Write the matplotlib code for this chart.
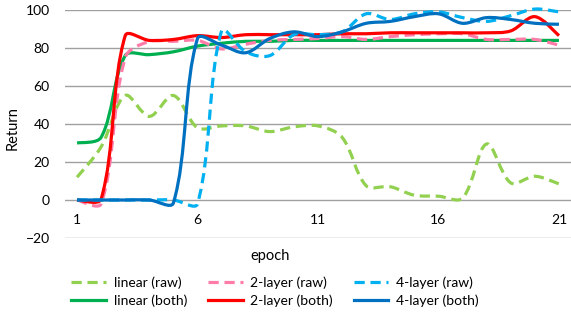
import matplotlib
matplotlib.use("Agg")
import matplotlib.pyplot as plt
from matplotlib.path import Path
from matplotlib.patches import PathPatch
from matplotlib.lines import Line2D
import numpy as np

plt.rcParams['font.family'] = ['Lato', 'DejaVu Sans']

epochs = list(range(1, 22))
xtick_labels = ['1', '6', '11', '16', '21']

linear_raw = [12, 28, 55, 44, 55, 38, 39, 39, 36, 38.5, 39, 33, 7.5, 7, 2.5, 2, 1, 29.5, 9, 12.5, 8.5]
two_raw = [0, -2, 75, 83.5, 83.5, 84, 79.5, 82, 84, 84.5, 85, 86, 84.5, 86, 87, 87.5, 87.5, 84.5, 84.5, 84.5, 81.5]
four_raw = [0, 0, 0, 0, 0, -2, 89, 78, 76, 87, 87, 88.5, 98, 95, 98, 99, 96, 94, 97, 100.5, 99]
linear_both = [30, 33, 76, 76.5, 78, 81, 82.5, 83.5, 83.5, 84, 84, 84, 84, 84, 84, 84, 84, 84, 84, 84, 84]
two_both = [0, 0.5, 86.5, 84, 84.5, 86.5, 85.5, 87, 87, 87, 87, 87.5, 87.5, 88, 88, 88, 88, 88, 89, 96.5, 86.5]
four_both = [0, 0, 0, 0, -1.5, 85, 81.5, 77.5, 85, 88.5, 86, 88.5, 93, 94, 96.5, 98, 93, 96, 95, 93, 92.5]

series = [
    ("linear (raw)", linear_raw, "#92D050", "dash"),
    ("linear (both)", linear_both, "#00B050", "solid"),
    ("2-layer (raw)", two_raw, "#FF7CA8", "dash"),
    ("2-layer (both)", two_both, "#FF0000", "solid"),
    ("4-layer (raw)", four_raw, "#00B0F0", "dash"),
    ("4-layer (both)", four_both, "#0070C0", "solid"),
]

# approximate pixel scale (x per epoch, y per unit) for the smoothing tangents
SX, SY = 24.1, 1.9


def smooth_path(xs, ys, k=1.0 / 3.0):
    pts = np.column_stack([np.asarray(xs, float) * SX, np.asarray(ys, float) * SY])
    n = len(pts)
    tangents = []
    for i in range(n):
        p0 = pts[i - 1] if i > 0 else pts[i]
        p2 = pts[i + 1] if i + 1 < n else pts[i]
        tangents.append(p2 - p0)
    dist = [np.hypot(*(pts[i + 1] - pts[i])) for i in range(n - 1)]
    verts = [pts[0]]
    codes = [Path.MOVETO]
    for i in range(n - 1):
        p1, p2 = pts[i], pts[i + 1]
        dprev = dist[i - 1] if i > 0 else dist[i]
        dnext = dist[i + 1] if i + 1 < n - 1 else dist[i]
        f1 = dist[i] / (dprev + dist[i]) if i > 0 else 0.5
        f2 = dist[i] / (dist[i] + dnext) if i + 1 < n - 1 else 0.5
        c1 = p1 + tangents[i] * f1 * k
        c2 = p2 - tangents[i + 1] * f2 * k
        verts += [c1, c2, p2]
        codes += [Path.CURVE4] * 3
    verts = np.array(verts)
    verts[:, 0] /= SX
    verts[:, 1] /= SY
    return Path(verts, codes)


W, H = 571, 315
fig = plt.figure(figsize=(W / 100, H / 100), dpi=100)
ax = fig.add_axes([65 / W, (H - 238) / H, (W - 65) / W, 228 / H])

lw = 2.3
dash = (0, (3.2, 1.8))
handles = []
for label, vals, color, style in series:
    ls = dash if style == "dash" else "solid"
    patch = PathPatch(smooth_path(epochs, vals), fill=False, edgecolor=color,
                      lw=lw, linestyle=ls, capstyle='butt', joinstyle='round',
                      clip_on=False, zorder=3)
    ax.add_patch(patch)
    handles.append(Line2D([], [], color=color, lw=lw, linestyle=ls))

ax.set_xlim(0.5, 21.5)
ax.set_ylim(-20, 100)
ax.set_yticks(range(-20, 101, 20))
ax.yaxis.grid(True, color='#A0A0A0', lw=1.0)
ax.set_axisbelow(True)
ax.set_xticks(epochs[::5])
ax.set_xticklabels(xtick_labels)
for s in ['top', 'right', 'left']:
    ax.spines[s].set_visible(False)
ax.spines['bottom'].set_position(('data', 0))
ax.spines['bottom'].set_visible(False)
ax.tick_params(axis='both', length=0, labelsize=10, colors='#000000')
ax.tick_params(axis='x', pad=10)
ax.tick_params(axis='y', pad=11)

ax.set_ylabel("Return", fontsize=10.5)
ax.yaxis.set_label_coords(-0.089, 0.48)
fig.text(270 / W, (H - 256) / H, "epoch", ha='center', va='center', fontsize=10.5)

fig.legend(handles=handles, labels=[s[0] for s in series], ncol=3,
           loc='center', bbox_to_anchor=(275 / W, (H - 291.5) / H),
           frameon=False, fontsize=10, handlelength=2.5, handletextpad=0.55,
           columnspacing=1.5, labelspacing=0.4, borderpad=0)

fig.savefig("out.png", dpi=100)
